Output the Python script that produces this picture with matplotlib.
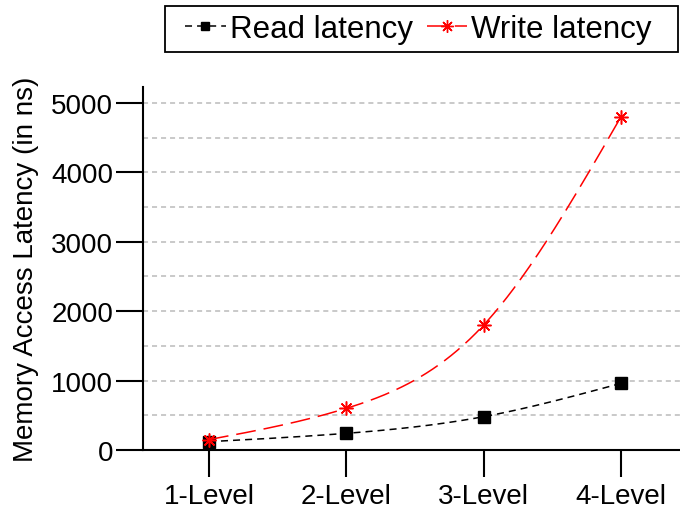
import matplotlib
matplotlib.use("Agg")
import matplotlib.pyplot as plt
from matplotlib.lines import Line2D
from matplotlib.patches import Rectangle
import numpy as np

plt.rcParams['font.family'] = ['Liberation Sans', 'DejaVu Sans']

# chart data
levels = ["1-Level", "2-Level", "3-Level", "4-Level"]
read_latency = [120, 240, 480, 960]
write_latency = [150, 600, 1800, 4800]


def natural_spline(xs, ys, n=200):
    # natural cubic spline through the points, only used for drawing the curve
    xs = np.asarray(xs, float)
    ys = np.asarray(ys, float)
    k = len(xs)
    h = np.diff(xs)
    A = np.zeros((k, k))
    b = np.zeros(k)
    A[0, 0] = A[-1, -1] = 1
    for i in range(1, k - 1):
        A[i, i - 1] = h[i - 1]
        A[i, i] = 2 * (h[i - 1] + h[i])
        A[i, i + 1] = h[i]
        b[i] = 3 * ((ys[i + 1] - ys[i]) / h[i] - (ys[i] - ys[i - 1]) / h[i - 1])
    c = np.linalg.solve(A, b)
    xx = np.linspace(xs[0], xs[-1], n)
    yy = np.empty_like(xx)
    for j, x in enumerate(xx):
        i = min(np.searchsorted(xs, x, side='right') - 1, k - 2)
        d = x - xs[i]
        bi = (ys[i + 1] - ys[i]) / h[i] - h[i] * (2 * c[i] + c[i + 1]) / 3
        di = (c[i + 1] - c[i]) / (3 * h[i])
        yy[j] = ys[i] + bi * d + c[i] * d ** 2 + di * d ** 3
    return xx, yy


fig = plt.figure(figsize=(6.8, 5.1), dpi=100)
ax = fig.add_axes([143 / 680, 59 / 510, 537 / 680, 363 / 510])

x = np.arange(1, len(levels) + 1)

read_style = dict(color='black', linestyle=(0, (4.6, 3.3)), linewidth=1.1)
write_style = dict(color='red', linestyle=(0, (13, 5.2)), linewidth=1.1)
asterisk = (8, 2, 0)

xs, ys = natural_spline(x, read_latency)
ax.plot(xs, ys, **read_style)
ax.plot(x, read_latency, linestyle='none', marker='s', markersize=8,
        color='black')

xs, ys = natural_spline(x, write_latency)
ax.plot(xs, ys, **write_style)
ax.plot(x, write_latency, linestyle='none', marker=asterisk, markersize=10,
        markeredgewidth=1.1, color='red')

ax.set_xlim(0.52, 4.43)
ax.set_ylim(0, 5230)
ax.set_xticks(x)
ax.set_xticklabels(levels)
ax.set_yticks(np.arange(0, 5001, 1000))
ax.set_yticks(np.arange(500, 5001, 1000), minor=True)
ax.grid(True, axis='y', which='both', color='#bababa',
        linestyle=(0, (3.3, 2.6)), linewidth=1.1)
ax.set_axisbelow(True)

ax.tick_params(axis='both', which='major', direction='out', length=19.5,
               width=1.5, labelsize=20, pad=2)
ax.tick_params(axis='y', which='minor', length=0)
ax.tick_params(axis='x', pad=4)
for side in ['top', 'right']:
    ax.spines[side].set_visible(False)
for side in ['left', 'bottom']:
    ax.spines[side].set_linewidth(1.5)

ax.set_ylabel("Memory Access Latency (in ns)", fontsize=20)
ax.yaxis.set_label_coords(-0.194, 0.5)

# legend box drawn by hand, legend itself without frame
fig.patches.append(Rectangle((165 / 680, 1 - 53 / 510), 513 / 680, 46 / 510,
                             transform=fig.transFigure, fill=False,
                             edgecolor='black', linewidth=1.3))
handles = [
    Line2D([], [], marker='s', markersize=6, **read_style),
    Line2D([], [], marker=asterisk, markersize=9, markeredgewidth=1.0,
           **write_style),
]
fig.legend(handles, ["Read latency", "Write latency"], ncol=2,
           loc='center', bbox_to_anchor=(418.5 / 680, 1 - 30 / 510),
           fontsize=22.5, frameon=False,
           handlelength=1.3, handletextpad=0.13, columnspacing=0.45,
           borderpad=0.0)

fig.savefig("out.png", dpi=100)
